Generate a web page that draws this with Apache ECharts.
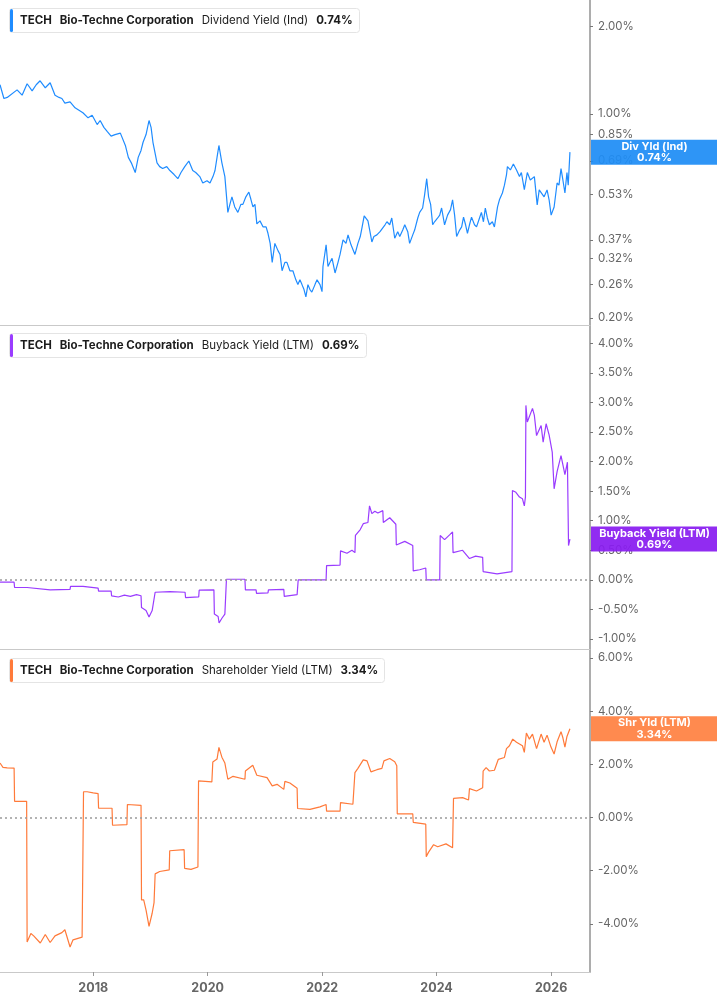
<!DOCTYPE html>
<html>
<head>
<meta charset="utf-8">
<title>TECH yields</title>
<script src="https://cdn.jsdelivr.net/npm/echarts@6/dist/echarts.min.js"></script>
<style>
  html, body { margin: 0; padding: 0; background: #fff; }
  #chart { width: 717px; height: 1005px; }
</style>
</head>
<body>
<div id="chart"></div>
<script>
// Dividend yield (Ind), %
var divDates = [
  '2016-05-16','2016-06-10','2016-07-01','2016-09-02','2016-10-04','2016-11-05','2016-12-07','2017-01-02','2017-01-27','2017-03-01',
  '2017-04-01','2017-05-02','2017-05-28','2017-06-15','2017-07-04','2017-08-06','2017-09-07','2017-10-02','2017-10-27','2017-11-29',
  '2017-12-25','2018-01-26','2018-02-14','2018-03-10','2018-04-01','2018-04-25','2018-05-20','2018-06-23','2018-07-25','2018-08-13',
  '2018-09-01','2018-09-26','2018-10-15','2018-11-02','2018-11-15','2018-12-04','2018-12-23','2019-01-05','2019-01-17','2019-02-12',
  '2019-03-01','2019-03-20','2019-04-15','2019-05-05','2019-06-01','2019-06-25','2019-07-15','2019-08-08','2019-09-03','2019-09-28',
  '2019-10-17','2019-11-12','2019-12-01','2019-12-28','2020-01-16','2020-02-04','2020-02-17','2020-03-01','2020-03-13','2020-04-01',
  '2020-04-20','2020-05-09','2020-05-22','2020-06-04','2020-06-22','2020-07-12','2020-07-31','2020-08-13','2020-09-01','2020-09-20',
  '2020-10-03','2020-10-16','2020-10-29','2020-11-10','2020-11-30','2020-12-20','2021-01-08','2021-01-20','2021-02-03','2021-02-16',
  '2021-03-05','2021-03-25','2021-04-07','2021-04-20','2021-05-08','2021-05-21','2021-06-09','2021-06-28','2021-07-17','2021-07-30',
  '2021-08-12','2021-08-25','2021-09-07','2021-09-19','2021-10-02','2021-10-15','2021-10-27','2021-11-16','2021-11-29','2021-12-18',
  '2021-12-31','2022-01-06','2022-01-26','2022-02-07','2022-02-20','2022-03-05','2022-03-24','2022-04-12','2022-04-25','2022-05-14',
  '2022-06-02','2022-06-15','2022-07-04','2022-07-29','2022-08-17','2022-09-01','2022-09-13','2022-09-26','2022-10-08','2022-10-20',
  '2022-11-02','2022-11-14','2022-11-27','2022-12-16','2023-01-05','2023-01-17','2023-02-06','2023-02-18','2023-03-08','2023-03-21',
  '2023-04-09','2023-04-28','2023-05-11','2023-05-30','2023-06-12','2023-07-01','2023-07-13','2023-08-02','2023-08-14','2023-09-03',
  '2023-09-15','2023-10-04','2023-10-17','2023-10-30','2023-11-11','2023-11-24','2023-12-07','2023-12-19','2024-01-08','2024-01-21',
  '2024-02-02','2024-02-21','2024-03-11','2024-03-30','2024-04-12','2024-04-25','2024-05-08','2024-05-27','2024-06-09','2024-06-21',
  '2024-07-04','2024-07-16','2024-07-29','2024-08-11','2024-08-30','2024-09-12','2024-10-01','2024-10-13','2024-10-26','2024-11-07',
  '2024-11-20','2024-12-03','2024-12-22','2025-01-04','2025-01-24','2025-02-05','2025-02-24','2025-03-09','2025-03-22','2025-03-28',
  '2025-04-16','2025-05-05','2025-05-25','2025-06-13','2025-06-25','2025-07-14','2025-08-02','2025-08-21','2025-09-16','2025-10-04',
  '2025-10-17','2025-10-29','2025-11-17','2025-12-06','2025-12-19','2026-01-01','2026-01-20','2026-02-08','2026-02-20','2026-03-05',
  '2026-03-17','2026-03-30','2026-04-12','2026-04-20','2026-05-01'
];
var divYield = [
  1.26,1.13,1.14,1.21,1.16,1.27,1.20,1.26,1.30,1.23,
  1.28,1.16,1.14,1.13,1.09,1.10,1.05,1.03,1.01,0.97,
  0.99,0.92,0.95,0.90,0.87,0.84,0.85,0.86,0.78,0.71,
  0.68,0.63,0.71,0.75,0.80,0.85,0.95,0.90,0.80,0.68,
  0.66,0.65,0.66,0.64,0.62,0.60,0.63,0.66,0.69,0.64,
  0.63,0.61,0.58,0.59,0.58,0.61,0.64,0.71,0.78,0.68,
  0.61,0.46,0.49,0.52,0.48,0.46,0.49,0.49,0.52,0.54,
  0.51,0.48,0.49,0.42,0.43,0.41,0.41,0.39,0.36,0.31,
  0.36,0.34,0.33,0.29,0.31,0.31,0.29,0.29,0.27,0.26,
  0.27,0.26,0.25,0.236,0.26,0.25,0.245,0.26,0.27,0.26,
  0.246,0.30,0.356,0.30,0.31,0.32,0.285,0.31,0.33,0.37,
  0.36,0.385,0.356,0.33,0.36,0.38,0.41,0.447,0.44,0.43,
  0.395,0.364,0.38,0.385,0.395,0.395,0.417,0.427,0.417,0.44,
  0.375,0.395,0.38,0.40,0.417,0.395,0.36,0.385,0.40,0.44,
  0.46,0.476,0.53,0.60,0.52,0.49,0.417,0.427,0.44,0.45,
  0.476,0.417,0.45,0.47,0.508,0.45,0.38,0.40,0.41,0.443,
  0.417,0.39,0.417,0.443,0.417,0.41,0.44,0.46,0.427,0.476,
  0.44,0.417,0.427,0.41,0.48,0.508,0.536,0.57,0.618,0.66,
  0.643,0.674,0.643,0.61,0.63,0.55,0.63,0.594,0.61,0.488,
  0.549,0.549,0.52,0.549,0.508,0.45,0.48,0.58,0.57,0.65,
  0.594,0.536,0.63,0.57,0.74
];

// Buyback yield (LTM), %
var buyDates = [
  '2016-05-16','2016-08-14','2016-08-17','2016-11-05','2016-11-08','2017-04-01','2017-08-06','2017-08-09','2017-10-28','2017-10-31',
  '2018-02-01','2018-02-04','2018-04-25','2018-04-28','2018-06-10','2018-07-19','2018-08-26','2018-10-04','2018-11-02','2018-11-05',
  '2018-12-04','2018-12-23','2019-01-12','2019-01-24','2019-01-31','2019-05-05','2019-08-10','2019-08-13','2019-11-05','2019-11-08',
  '2020-02-10','2020-02-13','2020-03-08','2020-03-14','2020-04-01','2020-04-20','2020-04-30','2020-08-26','2020-08-29','2020-11-05',
  '2020-11-08','2021-01-20','2021-01-23','2021-05-01','2021-05-04','2021-07-25','2021-08-01','2022-01-26','2022-01-29','2022-04-25',
  '2022-04-28','2022-06-08','2022-07-10','2022-07-29','2022-08-01','2022-09-01','2022-09-20','2022-10-20','2022-10-30','2022-11-14',
  '2022-12-03','2022-12-22','2023-01-23','2023-01-26','2023-03-08','2023-04-16','2023-04-19','2023-06-12','2023-08-02','2023-08-05',
  '2023-09-15','2023-10-24','2023-10-27','2024-01-21','2024-01-24','2024-02-21','2024-03-24','2024-04-12','2024-04-15','2024-06-15',
  '2024-07-29','2024-09-06','2024-10-21','2024-10-24','2025-01-21','2025-04-26','2025-04-29','2025-05-21','2025-06-13','2025-07-02',
  '2025-07-14','2025-07-21','2025-07-24','2025-08-02','2025-09-04','2025-09-16','2025-09-30','2025-10-29','2025-11-11','2025-11-30',
  '2025-12-19','2026-01-08','2026-01-20','2026-02-08','2026-03-05','2026-03-30','2026-04-15','2026-04-22','2026-05-01'
];
var buyYield = [
  -0.04,-0.04,-0.13,-0.13,-0.16,-0.17,-0.16,-0.11,-0.11,-0.135,
  -0.14,-0.19,-0.19,-0.27,-0.29,-0.26,-0.28,-0.25,-0.27,-0.47,
  -0.52,-0.63,-0.52,-0.49,-0.21,-0.20,-0.21,-0.30,-0.29,-0.175,
  -0.17,-0.58,-0.62,-0.73,-0.65,-0.58,0.01,0.01,-0.17,-0.17,
  -0.23,-0.22,-0.17,-0.16,-0.28,-0.25,0.00,0.00,0.24,0.25,
  0.49,0.45,0.50,0.46,0.75,0.85,0.95,0.97,1.25,1.12,
  1.16,1.13,1.17,0.97,1.05,0.94,0.59,0.65,0.58,0.15,
  0.17,0.20,0.00,0.00,0.75,0.68,0.76,0.81,0.46,0.50,
  0.36,0.40,0.38,0.14,0.10,0.14,1.51,1.48,1.40,1.37,
  1.25,1.40,2.95,2.67,2.90,2.78,2.44,2.61,2.33,2.64,
  2.45,2.16,1.54,1.83,2.10,1.78,1.99,0.58,0.69
];

// Shareholder yield (LTM), %
var shrDates = [
  '2016-05-16','2016-06-04','2016-07-01','2016-08-14','2016-08-17','2016-11-02','2016-11-05','2016-11-29','2016-12-17','2017-01-28',
  '2017-03-01','2017-04-01','2017-05-02','2017-06-15','2017-07-04','2017-08-06','2017-08-25','2017-10-22','2017-10-28','2017-10-31',
  '2017-11-23','2018-01-01','2018-02-01','2018-02-04','2018-05-01','2018-05-04','2018-08-04','2018-08-07','2018-11-02','2018-11-05',
  '2018-11-19','2018-12-04','2018-12-23','2019-01-12','2019-01-24','2019-01-31','2019-03-01','2019-05-01','2019-05-04','2019-08-04',
  '2019-08-07','2019-09-17','2019-10-31','2019-11-04','2020-01-28','2020-02-03','2020-03-01','2020-03-13','2020-04-01','2020-04-20',
  '2020-05-09','2020-06-11','2020-08-26','2020-08-29','2020-10-15','2020-10-30','2020-11-10','2021-01-14','2021-02-16','2021-03-19',
  '2021-05-01','2021-05-08','2021-06-09','2021-07-25','2021-07-28','2021-10-15','2021-12-18','2022-01-26','2022-01-29','2022-04-25',
  '2022-04-28','2022-07-16','2022-07-29','2022-08-17','2022-09-20','2022-10-14','2022-11-08','2022-12-16','2023-01-17','2023-01-30',
  '2023-03-08','2023-04-09','2023-04-22','2023-04-25','2023-08-02','2023-08-05','2023-10-24','2023-10-27','2023-11-11','2023-12-13',
  '2024-01-08','2024-03-01','2024-04-12','2024-04-18','2024-06-15','2024-07-23','2024-07-29','2024-09-12','2024-10-21','2024-10-24',
  '2024-11-12','2024-12-03','2025-01-04','2025-01-29','2025-03-09','2025-03-22','2025-04-10','2025-05-01','2025-05-25','2025-06-13',
  '2025-07-02','2025-07-14','2025-07-27','2025-08-15','2025-09-04','2025-09-30','2025-10-10','2025-10-29','2025-11-17','2025-12-06',
  '2025-12-31','2026-01-20','2026-02-08','2026-03-05','2026-03-17','2026-03-30','2026-04-12','2026-05-01'
];
var shrYield = [
  2.05,1.89,1.87,1.86,0.61,0.61,-4.68,-4.36,-4.45,-4.72,
  -4.40,-4.70,-4.45,-4.33,-4.22,-4.87,-4.60,-4.50,-4.45,0.97,
  0.97,0.93,0.90,0.35,0.35,-0.29,-0.27,0.49,0.46,-3.10,
  -3.10,-3.48,-4.09,-3.60,-3.20,-2.12,-2.03,-1.97,-1.25,-1.21,
  -1.91,-1.95,-1.86,1.38,1.34,2.09,2.20,2.64,2.27,2.05,
  1.44,1.55,1.44,1.75,1.97,1.75,1.59,1.50,1.19,1.25,
  1.06,1.36,1.30,1.10,0.34,0.31,0.40,0.49,0.24,0.24,
  0.56,0.50,1.69,1.85,2.17,2.13,1.72,1.80,1.85,2.13,
  2.22,2.10,1.95,0.14,0.14,-0.18,-0.25,-1.47,-1.30,-1.02,
  -1.10,-0.99,-1.14,0.72,0.75,0.66,1.09,1.00,1.12,1.75,
  1.88,1.75,1.78,2.19,2.26,2.59,2.70,2.95,2.83,2.77,
  2.70,2.45,3.18,2.95,3.14,2.59,2.55,3.14,2.83,3.10,
  2.65,2.39,2.85,3.23,3.00,2.65,3.05,3.34
];

var yearTicks = ['2018-01-01', '2020-01-01', '2022-01-01', '2024-01-01', '2026-01-01'];
var divTicks = [2.0, 1.0, 0.85, 0.69, 0.53, 0.37, 0.32, 0.26, 0.20];
var buyTicks = [-1, -0.5, 0, 0.5, 1, 1.5, 2, 2.5, 3, 3.5, 4];
var shrTicks = [-4, -2, 0, 2, 4, 6];

function ts(d) { return Date.parse(d + 'T00:00:00Z'); }

var panels = [
  { name: 'Dividend Yield (Ind)', tag: 'Div Yld (Ind)', dates: divDates, values: divYield, ticks: divTicks,
    line: '#1f8cff', tagColor: 'rgba(30,141,245,0.93)', log: true, min: 0.189, max: 2.46, top: 0, height: 325, legendTop: 8, zero: false },
  { name: 'Buyback Yield (LTM)', tag: 'Buyback Yield (LTM)', dates: buyDates, values: buyYield, ticks: buyTicks,
    line: '#9a3cff', tagColor: 'rgba(137,28,240,0.93)', log: false, min: -1.17, max: 4.31, top: 325, height: 324, legendTop: 333, zero: true },
  { name: 'Shareholder Yield (LTM)', tag: 'Shr Yld (LTM)', dates: shrDates, values: shrYield, ticks: shrTicks,
    line: '#ff7a3a', tagColor: 'rgba(255,132,70,0.95)', log: false, min: -5.81, max: 6.34, top: 649, height: 323, legendTop: 658, zero: true }
];

var FONT = 'Inter, "Noto Sans", sans-serif';
var grids = [], xAxes = [], yAxes = [], series = [], titles = [];
var yearTs = yearTicks.map(ts);

panels.forEach(function (p, i) {
  var last = p.values[p.values.length - 1];
  var isBottom = i === panels.length - 1;

  grids.push({ left: 0, right: 127, top: p.top, height: p.height });

  // dates as a value axis of timestamps so the tick set can be fixed to even years
  xAxes.push({
    type: 'value', gridIndex: i,
    min: ts('2016-05-16'), max: ts('2026-09-06'),
    axisLine: { show: true, onZero: false, lineStyle: { color: '#c9c9c9', width: 1 } },
    axisTick: { show: isBottom, customValues: yearTs, length: 4, lineStyle: { color: '#999' } },
    axisLabel: {
      show: isBottom, customValues: yearTs, margin: 10,
      color: '#666', fontSize: 12.5, fontWeight: 'bold', fontFamily: FONT,
      formatter: function (v) { return String(new Date(v).getUTCFullYear()); }
    },
    splitLine: { show: false }
  });

  yAxes.push({
    type: p.log ? 'log' : 'value', gridIndex: i, position: 'right',
    min: p.min, max: p.max,
    axisLine: { show: true, onZero: false, lineStyle: { color: '#adadad', width: 2 } },
    axisTick: { show: true, customValues: p.ticks, length: 3, lineStyle: { color: '#777' } },
    axisLabel: {
      customValues: p.ticks, margin: 8,
      color: '#666', fontSize: 11.5, fontFamily: FONT,
      formatter: function (v) { return Number(v).toFixed(2) + '%'; }
    },
    splitLine: { show: false }
  });

  var mark = [];
  if (p.zero) {
    mark.push({
      yAxis: 0,
      lineStyle: { color: '#9a9a9a', type: [2, 3], width: 1.5 },
      label: { show: false }
    });
  }
  // last-value tag sitting on the right axis
  mark.push({
    yAxis: last,
    lineStyle: { color: 'rgba(0,0,0,0)', width: 0 },
    label: {
      show: true, position: 'end', distance: 1, opacity: 1,
      formatter: '{a|' + p.tag + '}\n{a|' + last.toFixed(2) + '%}',
      backgroundColor: p.tagColor, width: 127, padding: [1, 0, 1, 0],
      rich: { a: { color: '#fff', fontWeight: 'bold', fontSize: 11, lineHeight: 11.5, align: 'center', fontFamily: FONT } }
    }
  });

  series.push({
    type: 'line', xAxisIndex: i, yAxisIndex: i,
    data: p.dates.map(function (d, k) { return [ts(d), p.values[k]]; }),
    showSymbol: false, symbol: 'none', sampling: 'none',
    lineStyle: { color: p.line, width: 1.2 },
    itemStyle: { color: p.line },
    markLine: { silent: true, symbol: 'none', animation: false, z: 10, data: mark }
  });

  titles.push({
    left: 9, top: p.legendTop,
    text: '{bar|}{t|TECH}{c|Bio-Techne Corporation}{n|' + p.name + '}{v|' + last.toFixed(2) + '%}',
    backgroundColor: '#fff', borderColor: '#e4e4e4', borderWidth: 1, borderRadius: 3,
    padding: [1, 7, 1, 1],
    textStyle: {
      rich: {
        bar: { backgroundColor: p.line, width: 3, height: 23, borderRadius: 2 },
        t: { fontSize: 11.5, fontWeight: 'bold', color: '#1c1c1c', padding: [0, 0, 0, 7], fontFamily: FONT },
        c: { fontSize: 11.5, fontWeight: 'bold', color: '#1c1c1c', padding: [0, 0, 0, 8], fontFamily: FONT },
        n: { fontSize: 11.5, fontWeight: 'normal', color: '#1c1c1c', padding: [0, 0, 0, 8], fontFamily: FONT },
        v: { fontSize: 11.5, fontWeight: 'bold', color: '#1c1c1c', padding: [0, 0, 0, 8], fontFamily: FONT }
      }
    }
  });
});

var chart = echarts.init(document.getElementById('chart'), null, { renderer: 'canvas' });
chart.setOption({
  animation: false,
  backgroundColor: '#fff',
  title: titles,
  grid: grids,
  xAxis: xAxes,
  yAxis: yAxes,
  series: series
});
</script>
</body>
</html>
